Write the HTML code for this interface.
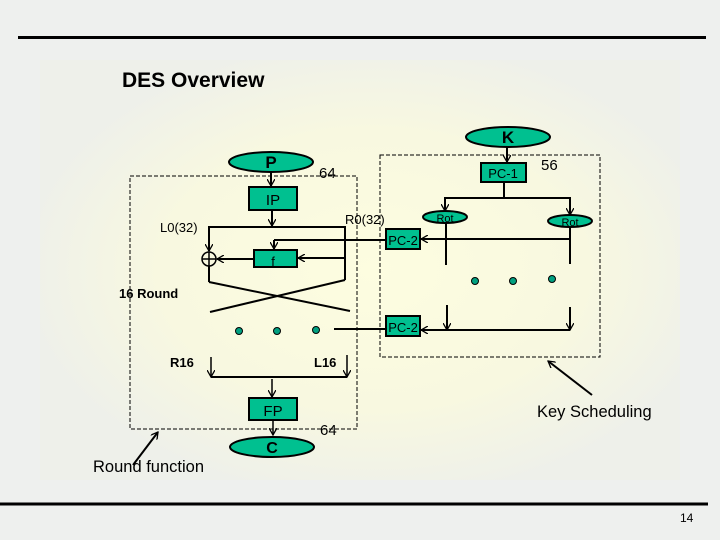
<!DOCTYPE html>
<html><head><meta charset="utf-8"><style>
html,body{margin:0;padding:0;width:720px;height:540px;overflow:hidden;}
body{background:#eef0ee;}
svg{display:block;font-family:"Liberation Sans",Arial,sans-serif;}
</style></head><body>
<svg width="720" height="540" viewBox="0 0 720 540" xmlns="http://www.w3.org/2000/svg">
<defs>
<radialGradient id="bg" cx="0.52" cy="0.5" r="0.55">
<stop offset="0" stop-color="#fdfde0"/>
<stop offset="0.6" stop-color="#f8f8e0"/>
<stop offset="1" stop-color="#eef0ea"/>
</radialGradient>
<marker id="a" markerWidth="8" markerHeight="8" refX="7" refY="4" orient="auto" markerUnits="userSpaceOnUse">
<path d="M0,0 L7,4 L0,8" fill="none" stroke="#000" stroke-width="1.3"/>
</marker>
</defs>
<rect x="0" y="0" width="720" height="540" fill="#eef0ee"/>
<rect x="40" y="60" width="640" height="420" fill="url(#bg)"/>
<line x1="18" y1="37.5" x2="706" y2="37.5" stroke="#000" stroke-width="3"/>
<line x1="0" y1="504" x2="708" y2="504" stroke="#000" stroke-width="3"/>
<text x="122" y="87" font-size="21" font-weight="bold">DES Overview</text>
<text x="680" y="522" font-size="12">14</text>

<g fill="none" stroke="#000" stroke-width="1" stroke-dasharray="4,2">
<rect x="130" y="176" width="227" height="253"/>
<rect x="380" y="155" width="220" height="202"/>
</g>

<g stroke="#000" stroke-width="2" fill="none">
<line x1="271" y1="172" x2="271" y2="186" marker-end="url(#a)"/>
<line x1="272" y1="210" x2="272" y2="226" marker-end="url(#a)"/>
<polyline points="209,251 209,227 345,227 345,280"/>
<line x1="209" y1="227" x2="209" y2="251" marker-end="url(#a)"/>
<line x1="345" y1="258" x2="298" y2="258" marker-end="url(#a)"/>
<line x1="254" y1="259" x2="217" y2="259" marker-end="url(#a)"/>
<polyline points="209,266 209,282"/>
<line x1="209" y1="282" x2="350" y2="311"/>
<line x1="345" y1="280" x2="210" y2="312"/>
<polyline points="386,240 274,240"/>
<line x1="274" y1="240" x2="274" y2="249" marker-end="url(#a)"/>
<line x1="334" y1="329" x2="386" y2="329"/>
<line x1="507" y1="147" x2="507" y2="162" marker-end="url(#a)"/>
<polyline points="504,182 504,198"/>
<polyline points="445,211 445,198 570,198 570,215"/>
<line x1="445" y1="198" x2="445" y2="211" marker-end="url(#a)"/>
<line x1="570" y1="198" x2="570" y2="215" marker-end="url(#a)"/>
<line x1="446" y1="223" x2="446" y2="265"/>
<line x1="570" y1="227" x2="570" y2="264"/>
<line x1="570" y1="239" x2="421" y2="239" marker-end="url(#a)"/>
<line x1="447" y1="305" x2="447" y2="330" marker-end="url(#a)"/>
<line x1="570" y1="307" x2="570" y2="330" marker-end="url(#a)"/>
<line x1="570" y1="330" x2="421" y2="330" marker-end="url(#a)"/>
<line x1="211" y1="357" x2="211" y2="377" marker-end="url(#a)" stroke-width="1.5"/>
<line x1="347" y1="355" x2="347" y2="377" marker-end="url(#a)" stroke-width="1.5"/>
<line x1="211" y1="377" x2="347" y2="377"/>
<line x1="272" y1="379" x2="272" y2="397" marker-end="url(#a)" stroke-width="1.5"/>
<line x1="273" y1="421" x2="273" y2="435" marker-end="url(#a)" stroke-width="1.5"/>
<line x1="133" y1="465" x2="158" y2="432" marker-end="url(#a)"/>
<line x1="592" y1="395" x2="548" y2="361" marker-end="url(#a)"/>
</g>

<g fill="#00c090" stroke="#000" stroke-width="2">
<ellipse cx="271" cy="162" rx="42" ry="10"/>
<ellipse cx="508" cy="137" rx="42" ry="10"/>
<ellipse cx="272" cy="447" rx="42" ry="10"/>
<ellipse cx="445" cy="217" rx="22" ry="6"/>
<ellipse cx="570" cy="221" rx="22" ry="6"/>
<rect x="249" y="187" width="48" height="23"/>
<rect x="254" y="250" width="43" height="17"/>
<rect x="481" y="163" width="45" height="19"/>
<rect x="386" y="229" width="34" height="20"/>
<rect x="386" y="316" width="34" height="20"/>
<rect x="249" y="398" width="48" height="22"/>
</g>
<circle cx="209" cy="259" r="7" fill="none" stroke="#000" stroke-width="1.5"/>
<line x1="202" y1="259" x2="216" y2="259" stroke="#000" stroke-width="1.5"/>
<line x1="209" y1="252" x2="209" y2="266" stroke="#000" stroke-width="1.5"/>

<g fill="#00a080" stroke="#000" stroke-width="1">
<circle cx="239" cy="331" r="3.5"/><circle cx="277" cy="331" r="3.5"/><circle cx="316" cy="330" r="3.5"/>
<circle cx="475" cy="281" r="3.5"/><circle cx="513" cy="281" r="3.5"/><circle cx="552" cy="279" r="3.5"/>
</g>

<g font-size="15" text-anchor="middle" fill="#000">
<text x="271" y="168" font-weight="bold" font-size="17">P</text>
<text x="508" y="143" font-weight="bold" font-size="17">K</text>
<text x="272" y="453" font-weight="bold" font-size="16">C</text>
<text x="273" y="205">IP</text>
<text x="273" y="266" font-size="13">f</text>
<text x="503" y="178" font-size="13">PC-1</text>
<text x="403" y="245" font-size="13">PC-2</text>
<text x="403" y="332" font-size="13">PC-2</text>
<text x="273" y="416">FP</text>
<text x="445" y="222" font-size="11">Rot</text>
<text x="570" y="226" font-size="11">Rot</text>
</g>
<g font-size="13" fill="#000">
<text x="160" y="232">L0(32)</text>
<text x="345" y="224">R0(32)</text>
<text x="119" y="298" font-weight="bold" font-size="13">16 Round</text>
<text x="170" y="367" font-weight="bold">R16</text>
<text x="314" y="367" font-weight="bold">L16</text>
<text x="319" y="178" font-size="15">64</text>
<text x="320" y="435" font-size="15">64</text>
<text x="541" y="170" font-size="15">56</text>
<text x="93" y="472" font-size="16.5">Round function</text>
<text x="537" y="417" font-size="16.5">Key Scheduling</text>
</g>
</svg>
</body></html>
